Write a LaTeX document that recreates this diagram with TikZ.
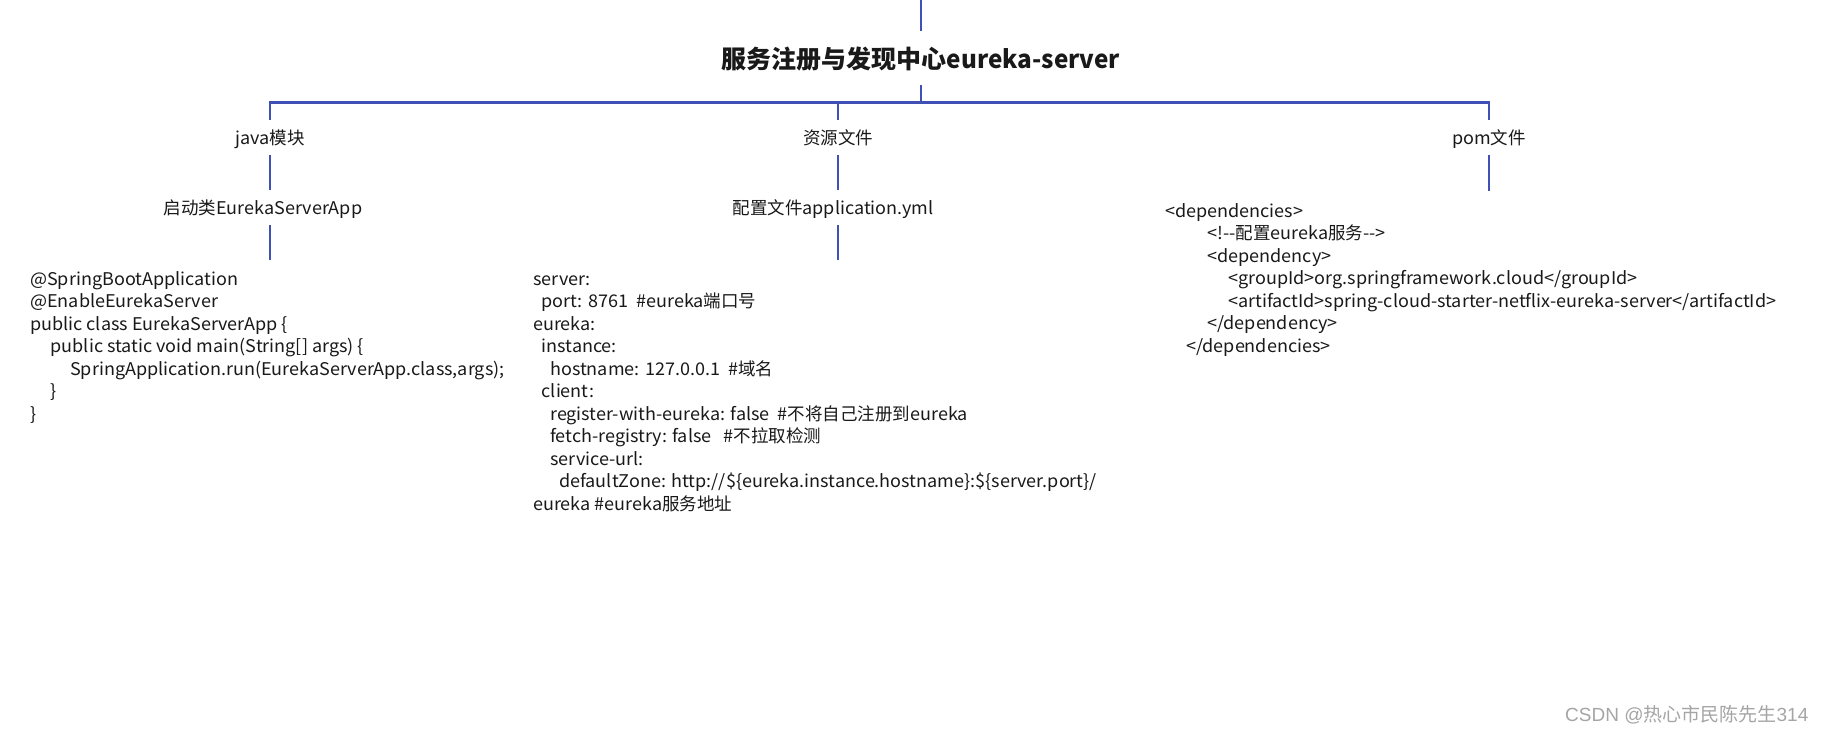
\documentclass[tikz,border=0pt]{standalone}
\usepackage{fontspec}
\setmainfont{Noto Sans CJK SC}[FakeStretch=1.03]
\newfontfamily\cjk{Noto Sans CJK SC}
\newfontfamily\titlelatin{Noto Sans CJK SC}[FakeStretch=0.97]
\newfontfamily\wmfont{Liberation Sans}
\definecolor{conncol}{RGB}{63,81,181}
\definecolor{txtcol}{RGB}{25,25,25}
\definecolor{wmcol}{RGB}{165,165,165}
\newcommand{\bodyfont}{\fontsize{17.5}{22.5}\selectfont}
\newcommand{\titlefont}{\fontsize{25}{30}\selectfont\bfseries}
\newcommand{\dd}{-\kern0pt-}
\begin{document}
\begin{tikzpicture}[x=1pt,y=-1pt,
  conn/.style={draw=conncol, line width=2pt},
  hconn/.style={draw=conncol, line width=2.6pt, line cap=rect},
  lab/.style={inner sep=0pt, minimum height=35pt, text height=15pt, text depth=2pt, text=txtcol, font=\bodyfont},
  codeblock/.style={anchor=north west, inner sep=0pt, align=left, text=txtcol, font=\bodyfont},
  titlenode/.style={inner sep=0pt, minimum height=54pt, text height=24pt, text depth=2.6pt, text=txtcol, font=\titlefont}]
\useasboundingbox (0,0) rectangle (1827,736);
\fill[white] (0,0) rectangle (1827,736);

% nodes
\node[titlenode] (title) at (921,58) {{\cjk 服务注册与发现中心}{\titlelatin eureka-server}};
\node[lab] (java) at (270,137.5) {java{\cjk 模块}};
\node[lab] (zy) at (838,137.5) {{\cjk 资源文件}};
\node[lab] (pom) at (1489,137.5) {pom{\cjk 文件}};
\node[lab] (qdl) at (263,207.5) {{\cjk 启动类}EurekaServerApp};
\node[lab] (pz) at (833,207.5) {{\cjk 配置文件}application.yml};

\node[codeblock] (code1) at (30,260) {\rule{0pt}{25pt}@SpringBootApplication\\
@EnableEurekaServer\\
public class EurekaServerApp \{\\
\hspace*{20.5pt}public static void main(String[] args) \{\\
\hspace*{40pt}SpringApplication.run(EurekaServerApp.class,args);\\
\hspace*{20.5pt}\}\\
\}};

\node[codeblock] (code2) at (533,260) {\rule{0pt}{25pt}server:\\
\hspace*{8.5pt}port: 8761\ \ \#eureka{\cjk 端口号}\\
eureka:\\
\hspace*{8.5pt}instance:\\
\hspace*{17pt}hostname: 127.0.0.1\ \ \#{\cjk 域名}\\
\hspace*{8.5pt}client:\\
\hspace*{17pt}register-with-eureka: false\ \ \#{\cjk 不将自己注册到}eureka\\
\hspace*{17pt}fetch-registry: false\ \ \ \#{\cjk 不拉取检测}\\
\hspace*{17pt}service-url:\\
\hspace*{26pt}defaultZone: http://\$\{eureka.instance.hostname\}:\$\{server.port\}/\\
eureka \#eureka{\cjk 服务地址}};

\node[codeblock] (code3) at (1165,191) {\rule{0pt}{26pt}<dependencies>\\
\hspace*{42pt}<!\dd{}{\cjk 配置}eureka{\cjk 服务}\dd{}>\\
\hspace*{42pt}<dependency>\\
\hspace*{63pt}<groupId>org.springframework.cloud</groupId>\\
\hspace*{63pt}<artifactId>spring-cloud-starter-netflix-eureka-server</artifactId>\\
\hspace*{42pt}</dependency>\\
\hspace*{21pt}</dependencies>};

\node[anchor=west, inner sep=0pt, text=wmcol, font=\fontsize{19}{22}\selectfont] (wm) at (1565,715) {{\wmfont CSDN @}{\cjk 热心市民陈先生}{\wmfont 314}};

% connectors
\coordinate (top) at (921,0);
\coordinate (hub) at (921,102.5);
\draw[conn] (top) -- (title.north);
\draw[conn] (title.south) -- (hub);
\draw[hconn] (java.north |- hub) -- (pom.north |- hub);
\draw[conn] (java.north |- hub) -- (java.north);
\draw[conn] (zy.north |- hub) -- (zy.north);
\draw[conn] (pom.north |- hub) -- (pom.north);
\draw[conn] (java.south) -- (java.south |- qdl.north);
\draw[conn] (java.south |- qdl.south) -- (java.south |- code1.north);
\draw[conn] (zy.south) -- (zy.south |- pz.north);
\draw[conn] (zy.south |- pz.south) -- (zy.south |- code2.north);
\draw[conn] (pom.south) -- (pom.south |- code3.north);
\end{tikzpicture}
\end{document}
